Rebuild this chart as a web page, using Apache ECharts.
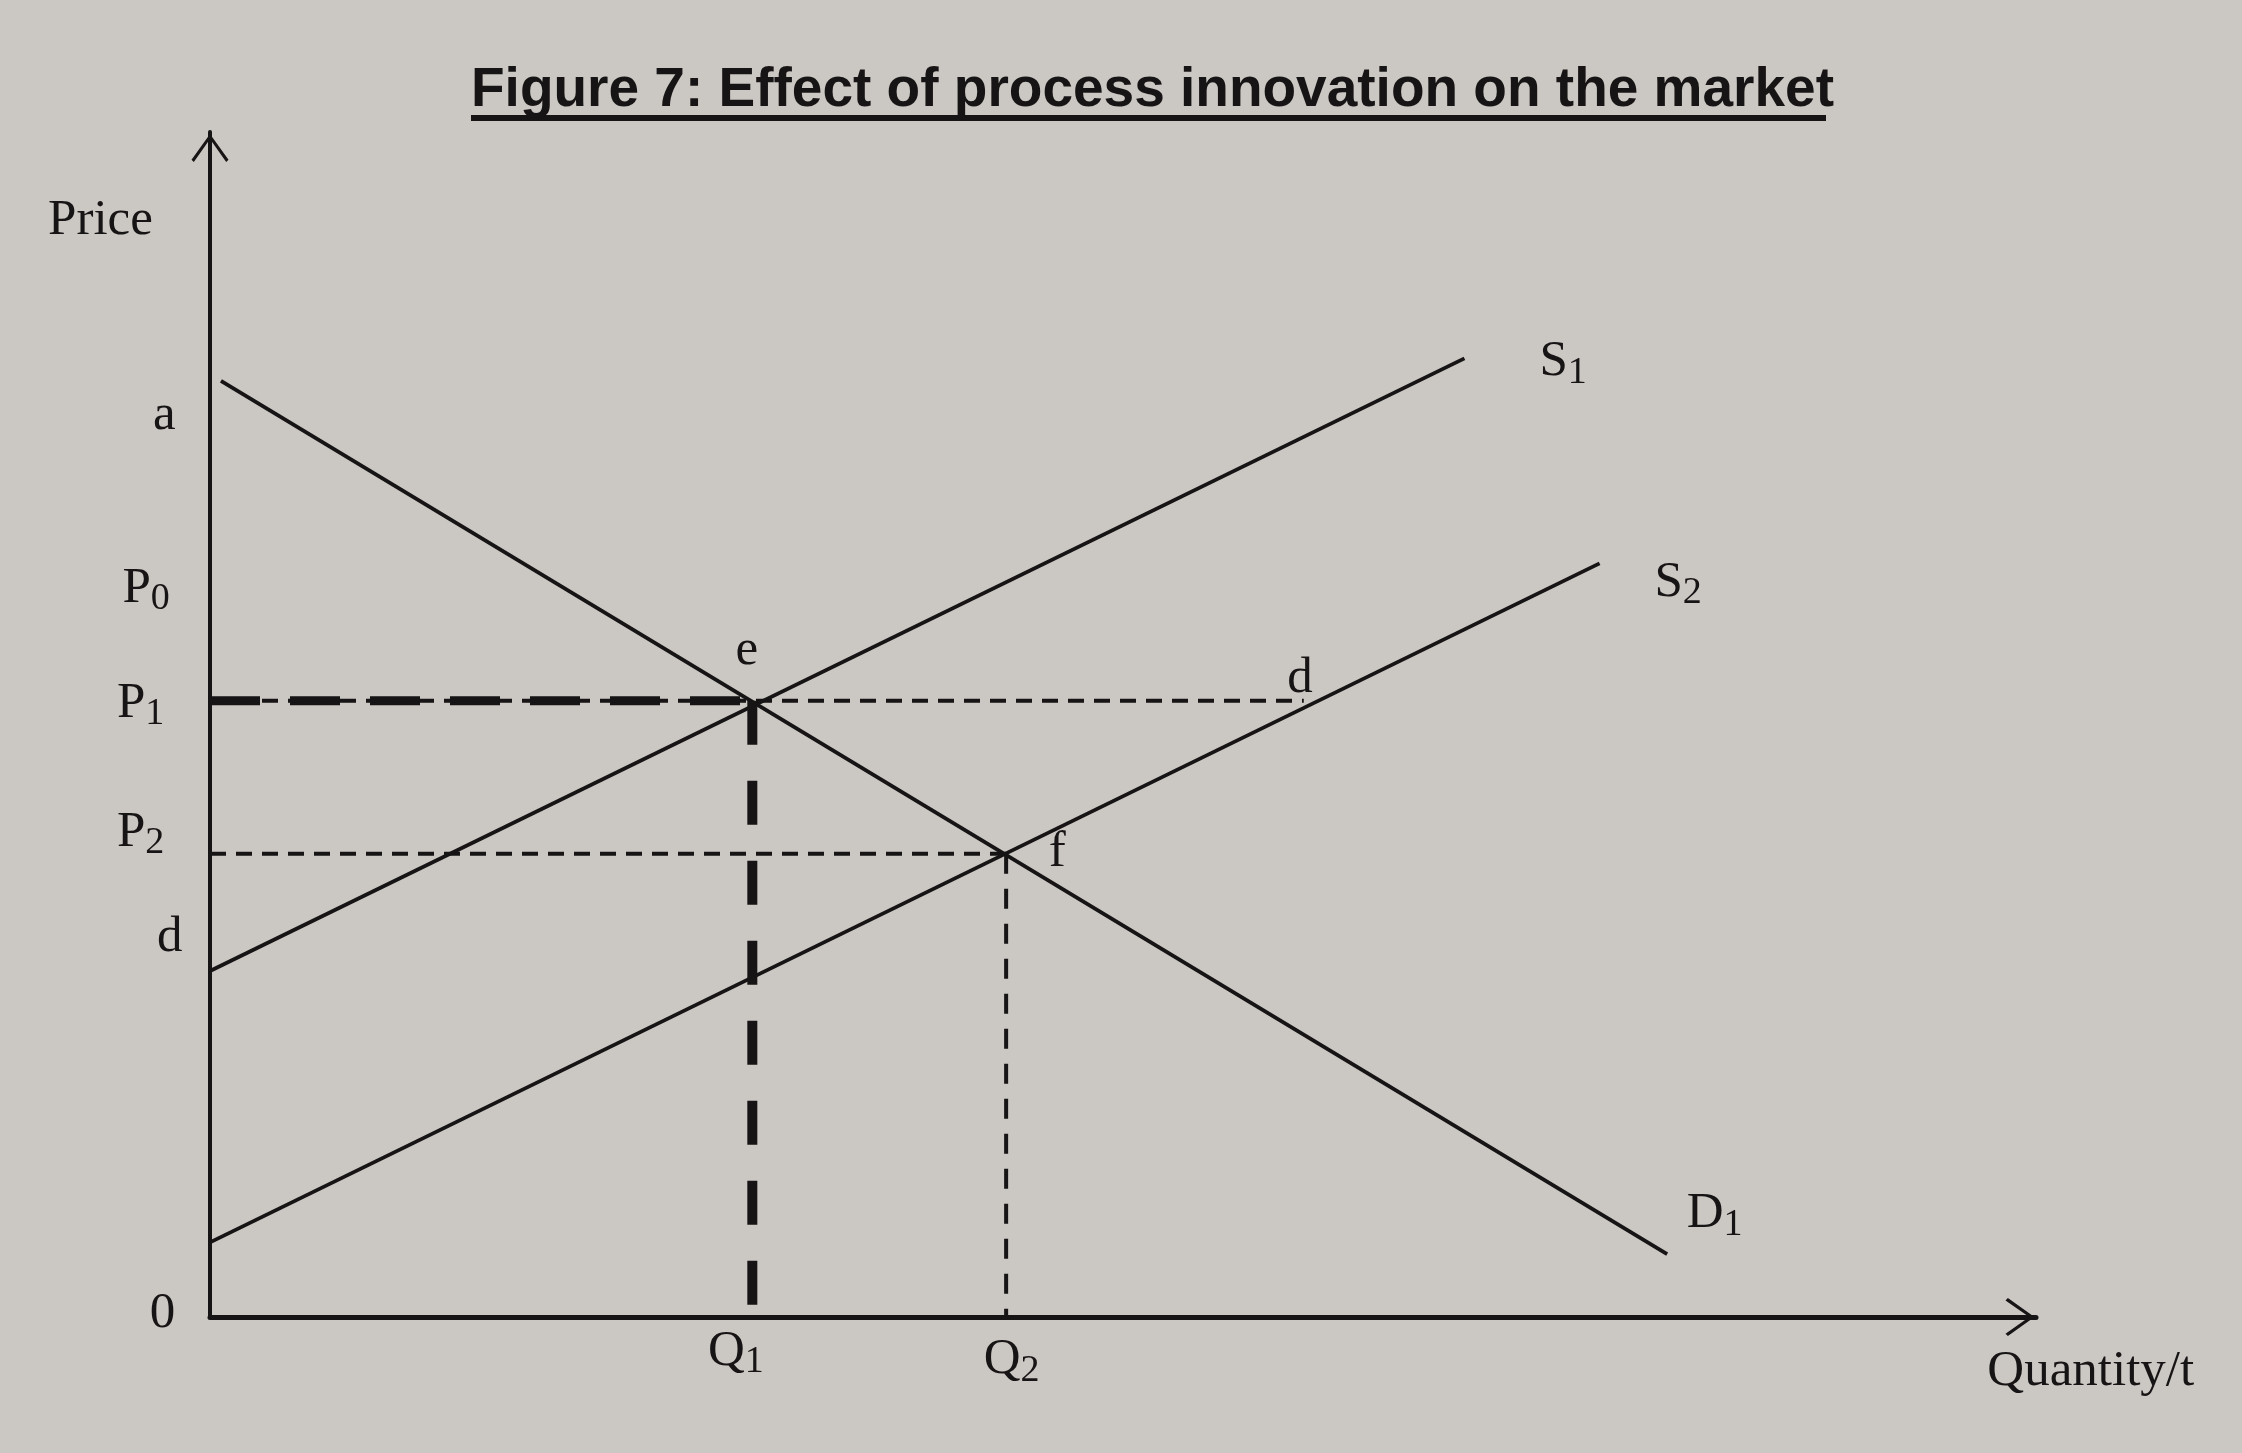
<!DOCTYPE html>
<html><head><meta charset="utf-8">
<script src="https://cdn.jsdelivr.net/npm/echarts@6/dist/echarts.min.js"></script>
<style>html,body{margin:0;padding:0;background:#cbc7c3}#c{width:2242px;height:1453px}</style>
</head><body><div id="c"></div>
<script>
// ---- data (arbitrary units: quantity 0-100, price 0-100) ----
const titleText = 'Figure 7: Effect of process innovation on the market';
const demandD1 = [[0.6, 79.0], [79.8, 5.3]];
const supplyS1 = [[0, 29.2], [68.7, 80.9]];
const supplyS2 = [[0, 6.3], [76.1, 63.6]];
const equilibriumE = [29.7, 52.0];
const equilibriumF = [43.6, 39.1];
const pointD = [59.9, 52.0];
const priceTickLabels = ['a', 'P0', 'P1', 'P2', 'd', '0'];
const priceTickValues = [[-2.5, 76.1], [-3.5, 61.5], [-3.8, 51.8], [-3.8, 40.9], [-2.2, 32.0], [-2.6, 0.3]];
const quantityTickLabels = ['Q1', 'Q2'];
const quantityTickValues = [[28.8, -2.9], [43.9, -3.6]];
const curveLabels = ['S1', 'S2', 'D1', 'e', 'f', 'd'];
const curveLabelValues = [[74.1, 80.6], [80.4, 62.0], [82.4, 8.7], [29.4, 56.2], [46.4, 39.2], [59.7, 53.9]];
const axisNames = ['Price', 'Quantity/t'];
const axisNameValues = [[-6.0, 92.5], [103.0, -4.6]];

// ---- styling ----
const INK = '#161414';
const SERIF = 'Liberation Serif';
const ARROW = 'path://M20,0 L40,28 L37.5,30.5 L20,5.5 L2.5,30.5 L0,28 Z';

function toRich(name) {
  const m = /^([A-Za-z])(\d)$/.exec(name);
  return m ? '{m|' + m[1] + '}{s|' + m[2] + '}' : '{m|' + name + '}';
}
const labelStyle = {
  show: true, position: 'inside', align: 'center', verticalAlign: 'middle',
  color: INK, opacity: 1, textBorderWidth: 0, textShadowBlur: 0,
  formatter: p => toRich(p.name),
  rich: {
    m: { fontFamily: SERIF, fontSize: 51, color: INK, lineHeight: 60, textBorderWidth: 0 },
    s: { fontFamily: SERIF, fontSize: 38, color: INK, lineHeight: 10, verticalAlign: 'bottom', textBorderWidth: 0 }
  }
};
function labelData(names, vals) {
  return names.map((n, i) => ({ name: n, value: vals[i] }));
}
function seg(data, width, type) {
  return {
    type: 'line', data: data, symbol: 'none', silent: true, animation: false,
    lineStyle: { color: INK, width: width, type: type || 'solid', cap: 'butt' }
  };
}

const P1 = equilibriumE[1], P2 = equilibriumF[1];
const option = {
  backgroundColor: '#cbc7c3',
  animation: false,
  title: {
    text: titleText, left: 471, top: 63, padding: 0,
    textStyle: { fontFamily: 'Liberation Sans', fontWeight: 'bold', fontSize: 55, color: INK }
  },
  graphic: [{
    type: 'line', shape: { x1: 471, y1: 118, x2: 1826, y2: 118 },
    style: { stroke: INK, lineWidth: 6 }
  }],
  grid: { left: 210, right: 206, top: 132, bottom: 136 },
  xAxis: {
    type: 'value', min: 0, max: 100,
    axisLine: { show: true, onZero: false, lineStyle: { color: INK, width: 5 },
      symbol: ['none', ARROW], symbolSize: [38, 33], symbolOffset: [0, -16] },
    axisTick: { show: false }, axisLabel: { show: false }, splitLine: { show: false }
  },
  yAxis: {
    type: 'value', min: 0, max: 100,
    axisLine: { show: true, onZero: false, lineStyle: { color: INK, width: 4 },
      symbol: ['none', ARROW], symbolSize: [37, 32], symbolOffset: [0, -16] },
    axisTick: { show: false }, axisLabel: { show: false }, splitLine: { show: false }
  },
  series: [
    seg(demandD1, 3.8),
    seg(supplyS1, 3.8),
    seg(supplyS2, 3.8),
    seg([[0, P1], equilibriumE], 9, [50, 30]),
    seg([[0, P1], pointD], 4, [16, 10]),
    seg([[0, P2], equilibriumF], 4, [16, 10]),
    seg([equilibriumE, [equilibriumE[0], 0]], 10, [44, 36]),
    seg([equilibriumF, [equilibriumF[0], 0]], 4, [20, 15]),
    {
      type: 'scatter', symbolSize: 0, clip: false, silent: true, animation: false,
      itemStyle: { color: INK, opacity: 1 },
      data: [].concat(
        labelData(priceTickLabels, priceTickValues),
        labelData(quantityTickLabels, quantityTickValues),
        labelData(curveLabels, curveLabelValues),
        labelData(axisNames, axisNameValues)
      ),
      label: labelStyle
    }
  ]
};
const chart = echarts.init(document.getElementById('c'), null, { renderer: 'canvas' });
chart.setOption(option);
</script>
</body></html>
